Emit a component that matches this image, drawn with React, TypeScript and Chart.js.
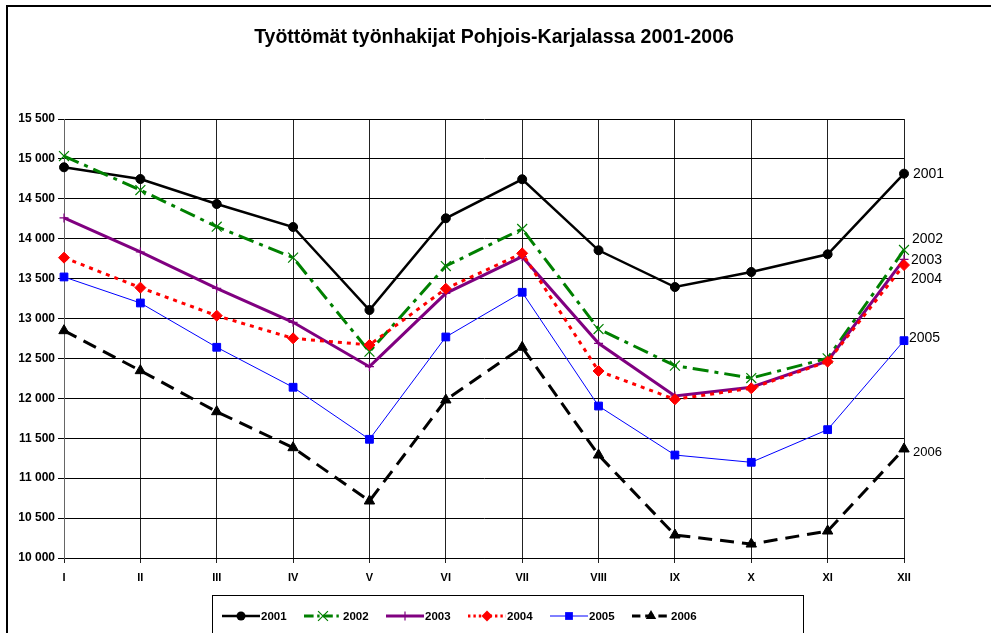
import React, { useEffect, useRef } from 'react';
import { Chart, registerables } from 'chart.js';

Chart.register(...registerables);

const months = ['I', 'II', 'III', 'IV', 'V', 'VI', 'VII', 'VIII', 'IX', 'X', 'XI', 'XII'];
const years = ['2001', '2002', '2003', '2004', '2005', '2006'];
const v2001 = [14895, 14748, 14435, 14147, 13107, 14256, 14745, 13855, 13395, 13583, 13805, 14815];
const v2002 = [15036, 14610, 14151, 13763, 12585, 13658, 14122, 12869, 12410, 12255, 12502, 13859];
const v2003 = [14260, 13834, 13379, 12953, 12397, 13316, 13775, 12690, 12030, 12139, 12468, 13742];
const v2004 = [13763, 13387, 13036, 12752, 12669, 13374, 13817, 12343, 11988, 12126, 12460, 13670];
const v2005 = [13521, 13195, 12640, 12139, 11487, 12769, 13329, 11904, 11290, 11199, 11608, 12723];
const v2006 = [12848, 12347, 11833, 11382, 10714, 11980, 12640, 11290, 10288, 10175, 10338, 11366];
const seriesValues = [v2001, v2002, v2003, v2004, v2005, v2006];
const yMin = 10000;
const yMax = 15500;
const yStep = 500;
const title = 'Työttömät työnhakijat Pohjois-Karjalassa 2001-2006';

const FONT = '"Liberation Sans", Arial, Helvetica, sans-serif';

type Style = { color: string; width: number; dash: number[]; point: string; r: number; pbw: number };
const styles: Style[] = [
  { color: '#000000', width: 2.5, dash: [], point: 'circle', r: 4.5, pbw: 1 },
  { color: '#008000', width: 3, dash: [16, 6, 4, 6], point: 'crossRot', r: 7, pbw: 1.2 },
  { color: '#800080', width: 3, dash: [], point: 'cross', r: 4.5, pbw: 1.2 },
  { color: '#FF0000', width: 3, dash: [4, 5], point: 'rectRot', r: 5.5, pbw: 1 },
  { color: '#0000FF', width: 1, dash: [], point: 'rect', r: 5.5, pbw: 1 },
  { color: '#000000', width: 3, dash: [14, 8], point: 'triangle', r: 6, pbw: 1 },
];
// end-label offsets (dx, dy) and font sizes
const endLabelDx = [9, 8, 7, 7, 5, 9];
const endLabelDy = [0, -11, 1, 14, -3, 3];
const endLabelSize = [14, 14, 14, 14, 14, 13];

function fmt(v: number) {
  const t = Math.floor(v / 1000);
  const r = Math.round(v % 1000);
  return `${t} ${String(r).padStart(3, '0')}`;
}

function drawMarker(ctx: CanvasRenderingContext2D, s: Style, x: number, y: number) {
  const r = s.r;
  ctx.save();
  ctx.setLineDash([]);
  ctx.fillStyle = s.color;
  ctx.strokeStyle = s.color;
  ctx.lineWidth = s.pbw;
  ctx.beginPath();
  switch (s.point) {
    case 'circle':
      ctx.arc(x, y, r, 0, Math.PI * 2);
      ctx.fill();
      break;
    case 'crossRot': {
      const o = r * Math.SQRT1_2;
      ctx.moveTo(x - o, y - o); ctx.lineTo(x + o, y + o);
      ctx.moveTo(x - o, y + o); ctx.lineTo(x + o, y - o);
      ctx.stroke();
      break;
    }
    case 'cross':
      ctx.moveTo(x - r, y); ctx.lineTo(x + r, y);
      ctx.moveTo(x, y - r); ctx.lineTo(x, y + r);
      ctx.stroke();
      break;
    case 'rectRot':
      ctx.moveTo(x - r, y); ctx.lineTo(x, y - r); ctx.lineTo(x + r, y); ctx.lineTo(x, y + r);
      ctx.closePath();
      ctx.fill();
      break;
    case 'rect': {
      const h = r * Math.SQRT1_2;
      ctx.rect(x - h, y - h, 2 * h, 2 * h);
      ctx.fill();
      break;
    }
    case 'triangle':
      ctx.moveTo(x, y - r);
      ctx.lineTo(x + r * Math.sin((2 * Math.PI) / 3), y - r * Math.cos((2 * Math.PI) / 3));
      ctx.lineTo(x + r * Math.sin((4 * Math.PI) / 3), y - r * Math.cos((4 * Math.PI) / 3));
      ctx.closePath();
      ctx.fill();
      break;
  }
  ctx.restore();
}

const decorPlugin = {
  id: 'decor',
  beforeDraw(chart: any) {
    const ctx = chart.ctx as CanvasRenderingContext2D;
    ctx.save();
    ctx.fillStyle = '#ffffff';
    ctx.fillRect(0, 0, chart.width, chart.height);
    ctx.fillStyle = '#000000';
    ctx.fillRect(6, 5, 2, chart.height - 5);
    ctx.fillRect(6, 5, chart.width - 6, 2);
    ctx.font = `bold 19.5px ${FONT}`;
    ctx.textAlign = 'center';
    ctx.textBaseline = 'middle';
    ctx.fillText(title, 494, 38);
    ctx.restore();
  },
  afterDraw(chart: any) {
    const ctx = chart.ctx as CanvasRenderingContext2D;
    const area = chart.chartArea;
    const yScale = chart.scales.y;
    ctx.save();
    // end labels
    ctx.fillStyle = '#000';
    ctx.textAlign = 'left';
    ctx.textBaseline = 'middle';
    years.forEach((yr, i) => {
      const vals = seriesValues[i];
      const py = yScale.getPixelForValue(vals[vals.length - 1]);
      ctx.font = `${endLabelSize[i]}px ${FONT}`;
      ctx.fillText(yr, area.right + endLabelDx[i], py + endLabelDy[i]);
    });
    // legend box
    ctx.strokeStyle = '#000';
    ctx.lineWidth = 1;
    ctx.strokeRect(212.5, 595.5, 591, 60);
    const ly = 616;
    years.forEach((yr, i) => {
      const s = styles[i];
      const x0 = 222 + 82 * i;
      ctx.save();
      ctx.strokeStyle = s.color;
      ctx.lineWidth = s.width;
      ctx.setLineDash(s.dash.length ? s.dash.map((d) => d * 0.6) : []);
      ctx.beginPath();
      ctx.moveTo(x0, ly);
      ctx.lineTo(x0 + 38, ly);
      ctx.stroke();
      ctx.restore();
      drawMarker(ctx, s, x0 + 19, ly);
      ctx.fillStyle = '#000';
      ctx.font = `bold 11.5px ${FONT}`;
      ctx.textAlign = 'left';
      ctx.textBaseline = 'middle';
      ctx.fillText(yr, x0 + 39, ly + 1);
    });
    ctx.restore();
  },
};

export default function App() {
  const ref = useRef<HTMLCanvasElement | null>(null);
  useEffect(() => {
    if (!ref.current) return;
    Chart.defaults.font.family = FONT;
    const chart = new Chart(ref.current, {
      type: 'line',
      data: {
        labels: months,
        datasets: years.map((yr, i) => ({
          label: yr,
          data: seriesValues[i],
          borderColor: styles[i].color,
          backgroundColor: styles[i].color,
          borderWidth: styles[i].width,
          borderDash: styles[i].dash,
          pointStyle: styles[i].point as any,
          pointRadius: styles[i].r,
          pointBorderWidth: styles[i].pbw,
          pointBackgroundColor: styles[i].color,
          pointBorderColor: styles[i].color,
          tension: 0,
          fill: false,
          clip: false as any,
          order: 5 - i,
        })),
      },
      options: {
        responsive: false,
        animation: false,
        events: [],
        layout: { padding: { left: 0, top: 119, right: 87, bottom: 45 } },
        plugins: {
          legend: { display: false },
          title: { display: false },
          tooltip: { enabled: false },
        },
        scales: {
          x: {
            type: 'category',
            offset: false,
            grid: { color: '#222', lineWidth: 1, tickLength: 5, drawTicks: true },
            border: { color: '#000', width: 1 },
            ticks: {
              color: '#000',
              font: { family: FONT, size: 11, weight: 'bold' },
              padding: 8,
              maxRotation: 0,
              autoSkip: false,
            },
            afterFit: (s: any) => { s.height = 30; },
          },
          y: {
            min: yMin,
            max: yMax,
            grid: { color: '#000', lineWidth: 1, tickLength: 6, drawTicks: true },
            border: { color: '#666', width: 1 },
            ticks: {
              stepSize: yStep,
              color: '#000',
              font: { family: FONT, size: 12, weight: 'bold' },
              padding: 3,
              callback: (v: any) => fmt(Number(v)),
            },
            afterFit: (s: any) => { s.width = 64; },
          },
        },
      },
      plugins: [decorPlugin],
    });
    return () => chart.destroy();
  }, []);
  return (
    <div style={{ position: 'absolute', left: 0, top: 0, width: 991, height: 633, overflow: 'hidden' }}>
      <canvas ref={ref} width={991} height={633} style={{ display: 'block', width: 991, height: 633 }} />
    </div>
  );
}
